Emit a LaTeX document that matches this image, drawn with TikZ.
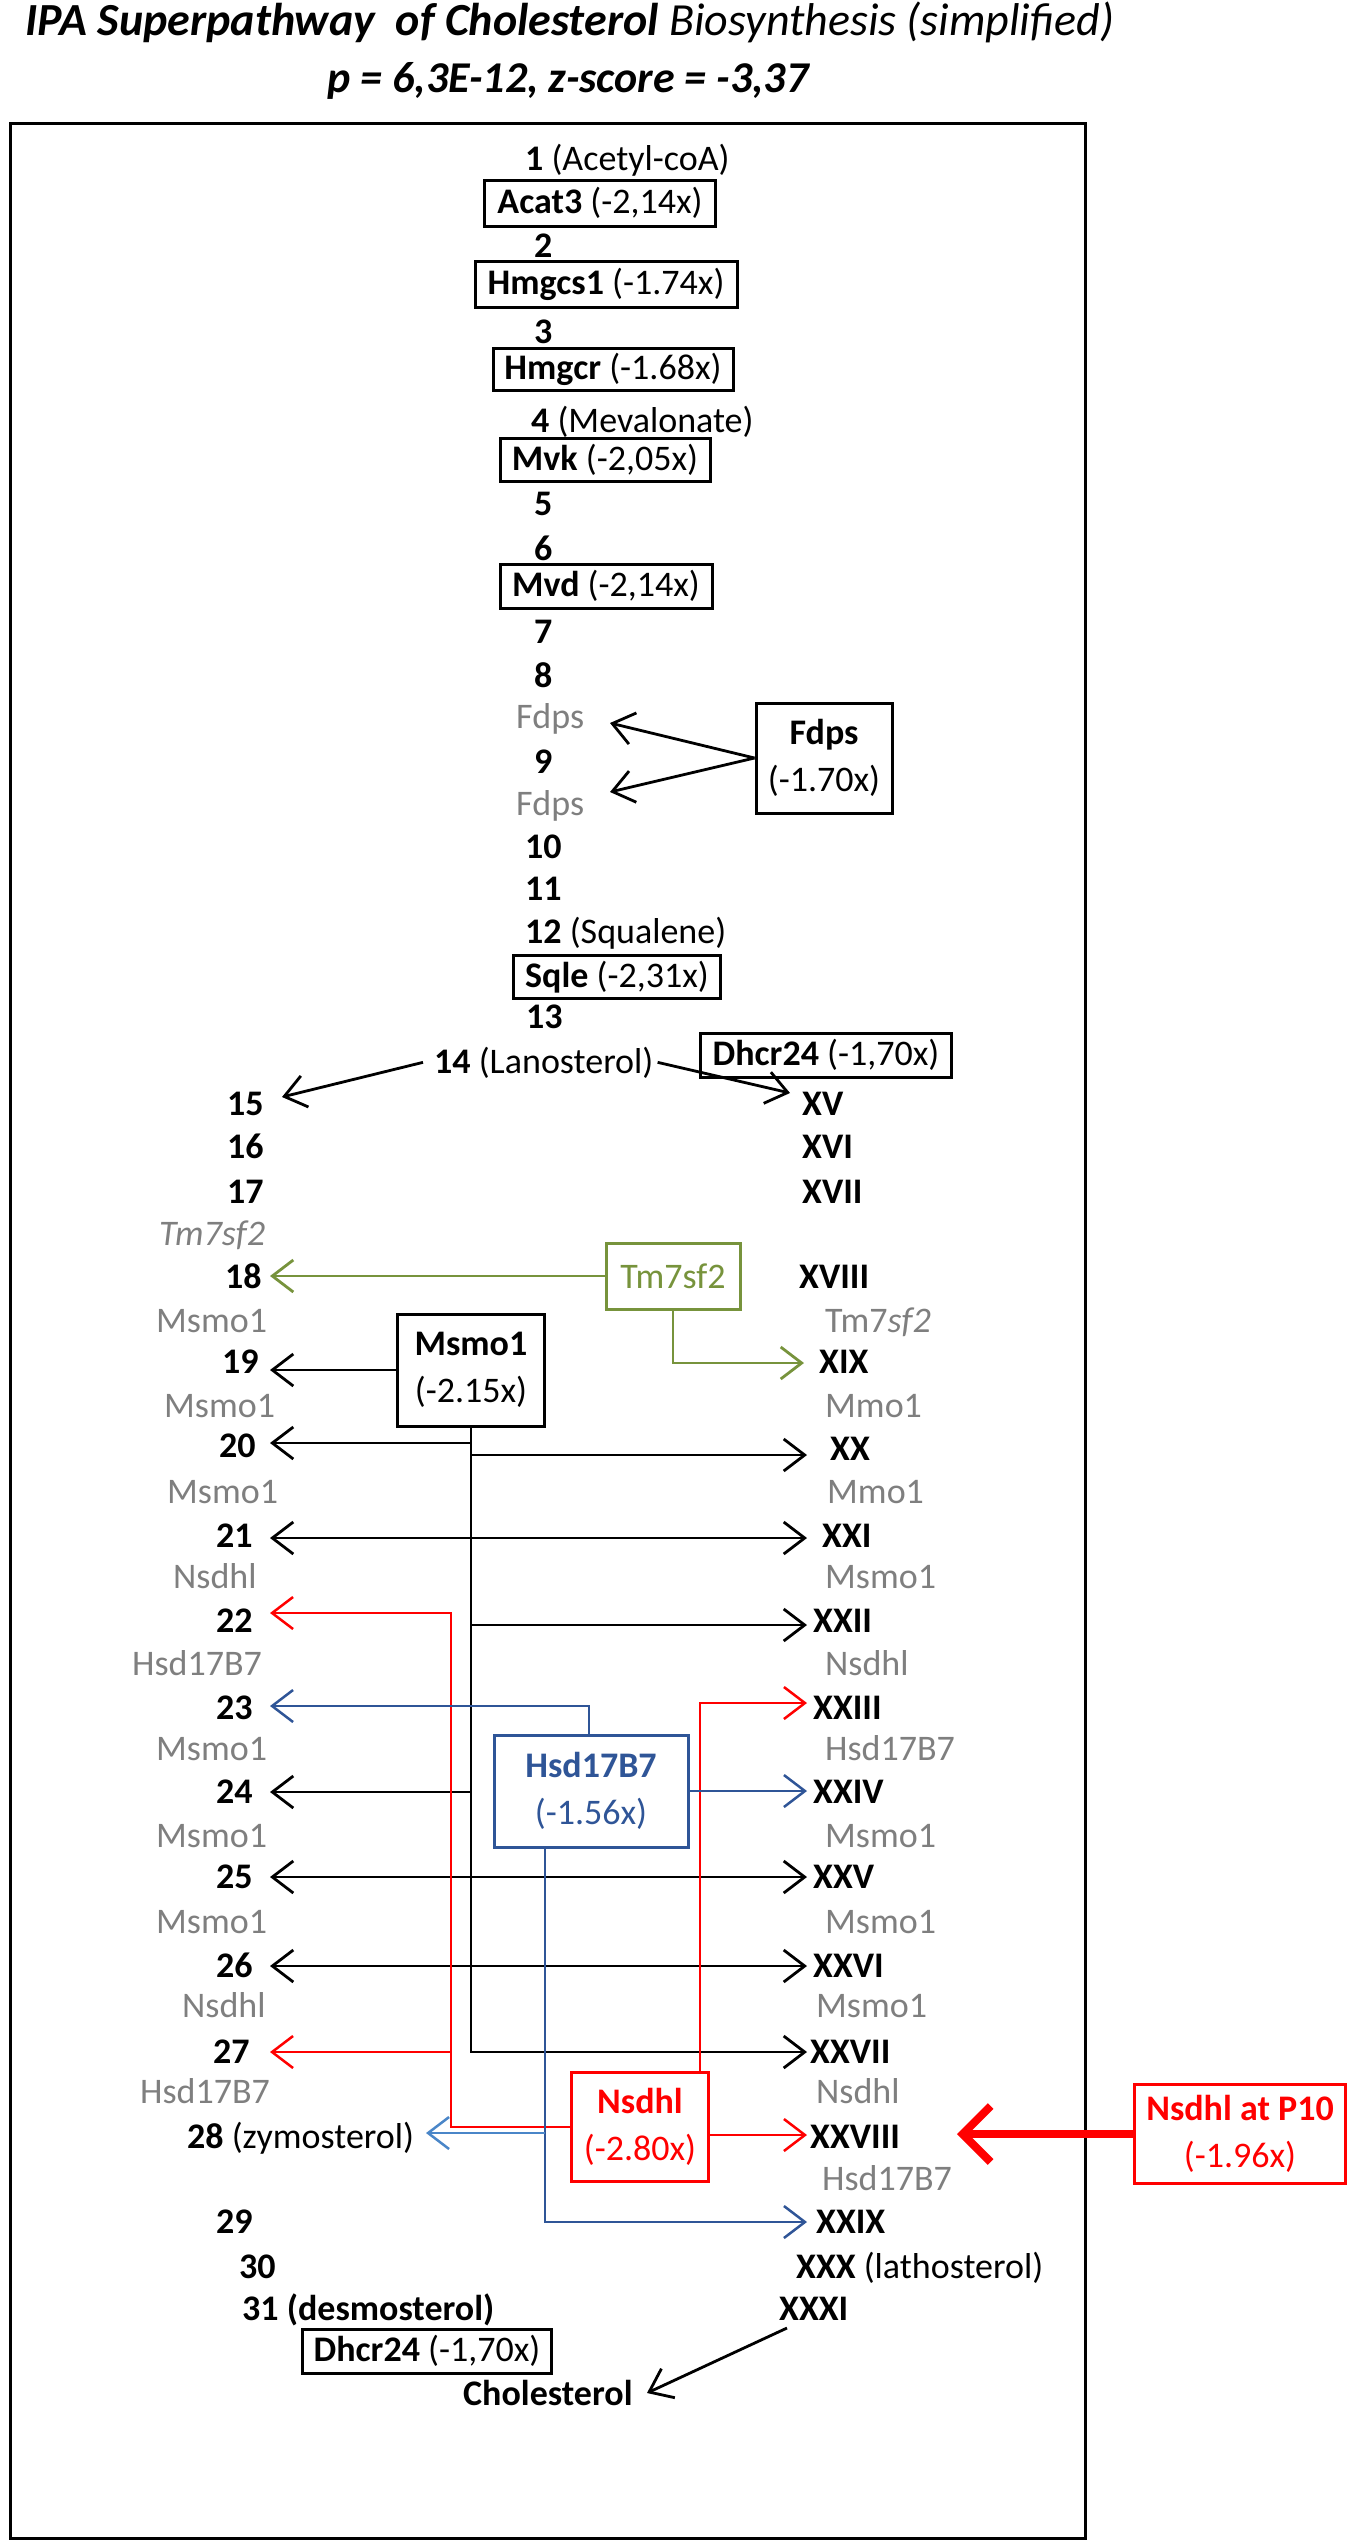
\documentclass[tikz,border=0pt]{standalone}
\usepackage{fontspec}
\setmainfont{Carlito}
\usetikzlibrary{arrows.meta}
\definecolor{lblgray}{HTML}{7F7F7F}
\definecolor{grn}{HTML}{77933C}
\definecolor{blu}{HTML}{2F5597}
\definecolor{lblu}{HTML}{4A86C8}
\definecolor{redc}{HTML}{FF0000}
\begin{document}
\begin{tikzpicture}[x=1pt,y=-1pt,
  txt/.style={inner sep=0pt, anchor=base west, font=\fontsize{36}{47}\selectfont},
  num/.style={txt, font=\fontsize{36}{47}\selectfont\bfseries},
  gl/.style={txt, text=lblgray},
  gbox/.style={draw, line width=3pt, inner sep=0pt, align=center, font=\fontsize{36}{47}\selectfont},
  arr/.style={line width=2.8pt, -{Straight Barb[length=21pt,width=32pt]}},
  darr/.style={line width=2.8pt, {Straight Barb[length=21pt,width=32pt]}-{Straight Barb[length=21pt,width=32pt]}},
]
\useasboundingbox (0,0) rectangle (1350,2544);
% title
\node[inner sep=0pt, anchor=base] (title1) at (570,35) {\fontsize{46}{50}\selectfont\bfseries\itshape IPA Superpathway\ \ of Cholesterol \mdseries Biosynthesis (simplified)};
\node[inner sep=0pt, anchor=base] (title2) at (568,92) {\fontsize{44}{50}\selectfont\bfseries\itshape p = 6,3E-12, z-score = -3,37};
% frame
\draw[line width=3pt] (10,123) rectangle (1085,2538);

% main column
\node[txt] (n1) at (525,170) {\textbf{1} (Acetyl-coA)};
\node[gbox, minimum width=231pt, minimum height=46pt] (acat) at (600,203) {\textbf{Acat3} (-2,14x)};
\node[num] (n2) at (534,257) {2};
\node[gbox, minimum width=262pt, minimum height=46pt] (hmgcs) at (606,284) {\textbf{Hmgcs1} (-1.74x)};
\node[num] (n3) at (534,343) {3};
\node[gbox, minimum width=240pt, minimum height=42pt] (hmgcr) at (613,369) {\textbf{Hmgcr} (-1.68x)};
\node[txt] (n4) at (531,432) {\textbf{4} (Mevalonate)};
\node[gbox, minimum width=210pt, minimum height=43pt] (mvk) at (605,460) {\textbf{Mvk} (-2,05x)};
\node[num] (n5) at (534,515) {5};
\node[num] (n6) at (534,560) {6};
\node[gbox, minimum width=212pt, minimum height=44pt] (mvd) at (606,586) {\textbf{Mvd} (-2,14x)};
\node[num] (n7) at (534,643) {7};
\node[num] (n8) at (534,687) {8};
\node[gl] (fd8) at (516,728) {Fdps};
\node[num] (n9) at (534,773) {9};
\node[gl] (fd9) at (516,815) {Fdps};
\node[gbox, minimum width=136pt, minimum height=110pt] (fdps) at (824,758) {\textbf{Fdps}\\(-1.70x)};
\node[num] (n10) at (525,858) {10};
\node[num] (n11) at (525,900) {11};
\node[txt] (n12) at (525,943) {\textbf{12} (Squalene)};
\node[gbox, minimum width=207pt, minimum height=43pt] (sqle) at (617,977) {\textbf{Sqle} (-2,31x)};
\node[num] (n13) at (526,1028) {13};
\node[txt] (n14) at (434,1073) {\textbf{14} (Lanosterol)};
\node[gbox, minimum width=251pt, minimum height=44pt] (dhcrA) at (826,1055) {\textbf{Dhcr24} (-1,70x)};

\coordinate (f8) at (610,723);
\coordinate (f9) at (610,792);
\draw[arr] (fdps.west) -- (f8);
\draw[arr] (fdps.west) -- (f9);

% left column
\node[num] (n15) at (227,1115) {15};
\node[num] (n16) at (227,1158) {16};
\node[num] (n17) at (227,1203) {17};
\node[gl] (gL18) at (159,1245) {\textit{Tm7sf2}};
\node[num] (n18) at (225,1288) {18};
\node[gl] (gL19) at (156,1332) {Msmo1};
\node[num] (n19) at (222,1373) {19};
\node[gl] (gL20) at (164,1417) {Msmo1};
\node[num] (n20) at (219,1457) {20};
\node[gl] (gL21) at (167,1503) {Msmo1};
\node[num] (n21) at (216,1547) {21};
\node[gl] (gL22) at (173,1588) {Nsdhl};
\node[num] (n22) at (216,1632) {22};
\node[gl] (gL23) at (132,1675) {Hsd17B7};
\node[num] (n23) at (216,1719) {23};
\node[gl] (gL24) at (156,1760) {Msmo1};
\node[num] (n24) at (216,1803) {24};
\node[gl] (gL25) at (156,1847) {Msmo1};
\node[num] (n25) at (216,1888) {25};
\node[gl] (gL26) at (156,1933) {Msmo1};
\node[num] (n26) at (216,1977) {26};
\node[gl] (gL27) at (182,2017) {Nsdhl};
\node[num] (n27) at (213,2063) {27};
\node[gl] (gL28) at (140,2103) {Hsd17B7};
\node[txt] (n28) at (187,2148) {\textbf{28} (zymosterol)};
\node[num] (n29) at (216,2233) {29};
\node[num] (n30) at (239,2278) {30};
\node[num] (n31) at (242,2320) {31 (desmosterol)};
\node[gbox, minimum width=249pt, minimum height=44pt] (dhcrB) at (427,2351) {\textbf{Dhcr24} (-1,70x)};
\node[num] (chol) at (463,2405) {Cholesterol};

% right column
\node[num] (r15) at (802,1115) {XV};
\node[num] (r16) at (802,1158) {XVI};
\node[num] (r17) at (802,1203) {XVII};
\node[num] (r18) at (799,1288) {XVIII};
\node[gl] (gR19) at (825,1332) {Tm7\textit{sf2}};
\node[num] (r19) at (819,1373) {XIX};
\node[gl] (gR20) at (825,1417) {Mmo1};
\node[num] (r20) at (830,1460) {XX};
\node[gl] (gR21) at (827,1503) {Mmo1};
\node[num] (r21) at (822,1547) {XXI};
\node[gl] (gR22) at (825,1588) {Msmo1};
\node[num] (r22) at (813,1632) {XXII};
\node[gl] (gR23) at (825,1675) {Nsdhl};
\node[num] (r23) at (813,1719) {XXIII};
\node[gl] (gR24) at (825,1760) {Hsd17B7};
\node[num] (r24) at (813,1803) {XXIV};
\node[gl] (gR25) at (825,1847) {Msmo1};
\node[num] (r25) at (813,1888) {XXV};
\node[gl] (gR26) at (825,1933) {Msmo1};
\node[num] (r26) at (813,1977) {XXVI};
\node[gl] (gR27) at (816,2017) {Msmo1};
\node[num] (r27) at (810,2063) {XXVII};
\node[gl] (gR28) at (816,2103) {Nsdhl};
\node[num] (r28) at (810,2148) {XXVIII};
\node[gl] (gR29) at (822,2190) {Hsd17B7};
\node[num] (r29) at (816,2233) {XXIX};
\node[txt] (r30) at (796,2278) {\textbf{XXX} (lathosterol)};
\node[num] (r31) at (779,2320) {XXXI};

% enzyme boxes
\node[gbox, draw=grn, text=grn, minimum width=134pt, minimum height=66pt] (tm) at (673,1276) {Tm7sf2};
\node[gbox, minimum width=147pt, minimum height=112pt] (msmo) at (471,1370) {\textbf{Msmo1}\\(-2.15x)};
\node[gbox, draw=blu, text=blu, minimum width=194pt, minimum height=112pt] (hsd) at (591,1791) {\textbf{Hsd17B7}\\(-1.56x)};
\node[gbox, draw=redc, text=redc, minimum width=137pt, minimum height=109pt] (nsd) at (640,2127) {\textbf{Nsdhl}\\(-2.80x)};
\node[gbox, draw=redc, text=redc, minimum width=211pt, minimum height=99pt] (p10) at (1240,2134) {\textbf{Nsdhl at P10}\\(-1.96x)};

% lanosterol branches
\coordinate (t15) at (282,1097);
\coordinate (tXV) at (790,1093);
\draw[arr] ([xshift=-11pt]n14.west) -- (t15);
\draw[arr] ([xshift=4pt]n14.east) -- (tXV);

% tip coordinates
\coordinate (t18) at (270,1276);
\coordinate (tXIX) at (804,1363);
\coordinate (t19) at (270,1370);
\coordinate (t20) at (270,1443);
\coordinate (tXX) at (807,1455);
\coordinate (t21) at (270,1538);
\coordinate (tXXI) at (807,1538);
\coordinate (t22) at (270,1613);
\coordinate (tXXII) at (807,1625);
\coordinate (t23) at (270,1706);
\coordinate (tXXIII) at (807,1703);
\coordinate (t24) at (270,1792);
\coordinate (tXXIV) at (807,1791);
\coordinate (t25) at (270,1877);
\coordinate (tXXV) at (807,1877);
\coordinate (t26) at (270,1966);
\coordinate (tXXVI) at (807,1966);
\coordinate (t27) at (270,2052);
\coordinate (tXXVII) at (807,2052);
\coordinate (t28) at (426,2133);
\coordinate (tXXVIII) at (807,2135);
\coordinate (tXXIX) at (807,2222);
\coordinate (tP) at (957,2134);
\coordinate (tChol) at (647,2393);
\coordinate (sXXXI) at (787,2328);

% trunk points
\coordinate (k20) at (471,1443);
\coordinate (kXX) at (471,1455);
\coordinate (kXXII) at (471,1625);
\coordinate (k24) at (471,1792);
\coordinate (rl) at (451,2127);
\coordinate (rl27) at (451,2052);
\coordinate (bl28) at (545,2133);

% green
\draw[arr, grn] (tm.west) -- (t18);
\draw[arr, grn] (tm.south) |- (tXIX);
% black
\draw[arr] (msmo.west) -- (t19);
\draw[arr] (msmo.south) |- (tXXVII);
\draw[arr] (k20) -- (t20);
\draw[arr] (kXX) -- (tXX);
\draw[arr] (kXXII) -- (tXXII);
\draw[arr] (k24) -- (t24);
\draw[darr] (t21) -- (tXXI);
\draw[darr] (t25) -- (tXXV);
\draw[darr] (t26) -- (tXXVI);
% red
\draw[arr, redc, line width=2.5pt] (nsd.west) -- (rl) |- (t22);
\draw[arr, redc, line width=2.5pt] (rl27) -- (t27);
\draw[arr, redc, line width=2.5pt] ([xshift=60pt]nsd.north) |- (tXXIII);
\draw[arr, redc, line width=2.5pt] ([yshift=-8pt]nsd.east) -- (tXXVIII);
% blue
\draw[arr, blu, line width=2.5pt] ([xshift=-2pt]hsd.north) |- (t23);
\draw[arr, blu, line width=2.5pt] (hsd.east) -- (tXXIV);
\draw[arr, blu, line width=2.5pt] ([xshift=-46pt]hsd.south) |- (tXXIX);
\draw[arr, lblu, line width=2.5pt] (bl28) -- (t28);
% P10
\draw[redc, line width=8pt, -{Straight Barb[length=28pt,width=56pt]}] (p10.west) -- (tP);
% cholesterol
\draw[arr] (sXXXI) -- (tChol);
\end{tikzpicture}
\end{document}
